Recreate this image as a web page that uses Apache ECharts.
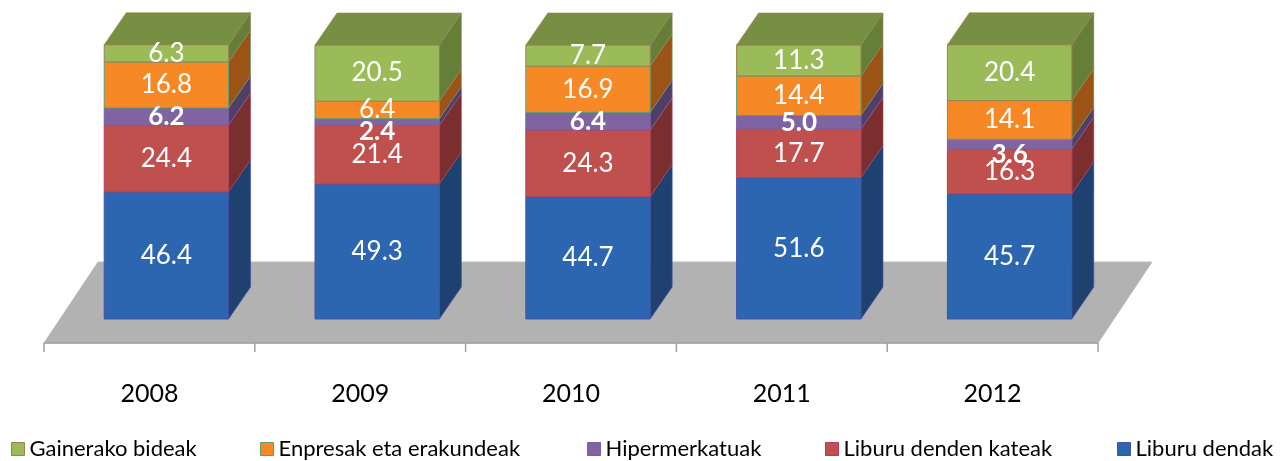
<!DOCTYPE html>
<html>
<head>
<meta charset="utf-8">
<script src="https://cdn.jsdelivr.net/npm/echarts@6/dist/echarts.min.js"></script>
<style>
  html, body { margin: 0; padding: 0; background: #fff; }
  #main { width: 1280px; height: 461px; }
</style>
</head>
<body>
<div id="main"></div>
<script>
const years = ["2008", "2009", "2010", "2011", "2012"];
const liburuDendak = [46.4, 49.3, 44.7, 51.6, 45.7];
const dendenKateak = [24.4, 21.4, 24.3, 17.7, 16.3];
const hipermerkatuak = [6.2, 2.4, 6.4, 5.0, 3.6];
const enpresak = [16.8, 6.4, 16.9, 14.4, 14.1];
const gainerako = [6.3, 20.5, 7.7, 11.3, 20.4];

window.onload = function () {
  const myChart = echarts.init(document.getElementById("main"));
  const FONT = "Lato, 'Open Sans', sans-serif";
  const DX = 22, DY = -32;   // depth of each box
  const SHIFT = 17;          // boxes sit in the middle of the floor
  const AXIS = "#A0A0A0";

  // bottom to top
  const layers = [
    { name: "Liburu dendak", values: liburuDendak, front: "#2C66B1", side: "#1E416F", border: "#4650A8", legendLeft: 1117 },
    { name: "Liburu denden kateak", values: dendenKateak, front: "#C0504D", side: "#7A2F2E", border: "#B04060", legendLeft: 825 },
    { name: "Hipermerkatuak", values: hipermerkatuak, front: "#8064A2", side: "#4F3E68", border: "#7A5FA0", legendLeft: 587, bold: true },
    { name: "Enpresak eta erakundeak", values: enpresak, front: "#F68826", side: "#9C5316", border: "#5AA070", legendLeft: 260 },
    { name: "Gainerako bideak", values: gainerako, front: "#9BBB59", side: "#667F38", top: "#778F42", border: "#9C8050", legendLeft: 11 }
  ];

  // floor + front axis line with ticks between categories
  const series = [{
    type: "custom",
    silent: true,
    z: 0,
    data: [[0, 0]],
    renderItem: function (params, api) {
      const cs = params.coordSys;
      const yf = cs.y + cs.height + 24;
      const children = [{
        type: "polygon",
        shape: { points: [[cs.x, yf], [cs.x + cs.width, yf], [cs.x + cs.width + 54, yf - 81], [cs.x + 54, yf - 81]] },
        style: { fill: "#B2B2B2", stroke: "#BDBDBD", lineWidth: 1 }
      }, {
        type: "line",
        shape: { x1: cs.x, y1: yf, x2: cs.x + cs.width, y2: yf },
        style: { stroke: AXIS, lineWidth: 1.5 }
      }];
      const step = api.size([1, 0])[0];
      for (let k = 0; k <= years.length; k++) {
        const x = cs.x + k * step;
        children.push({
          type: "line",
          shape: { x1: x, y1: yf, x2: x, y2: yf + 9 },
          style: { stroke: AXIS, lineWidth: 1.5 }
        });
      }
      return { type: "group", children: children };
    }
  }];

  let base = years.map(() => 0);
  layers.forEach(function (layer, li) {
    const data = layer.values.map((v, i) => [i, base[i], base[i] + v, v]);
    base = base.map((b, i) => b + layer.values[i]);
    const isTop = li === layers.length - 1;

    series.push({
      type: "custom",
      name: layer.name,
      z: 2,
      itemStyle: { color: layer.front, borderColor: layer.border, borderWidth: 1 },
      data: data,
      renderItem: function (params, api) {
        const i = api.value(0);
        const p0 = api.coord([i, api.value(1)]);
        const p1 = api.coord([i, api.value(2)]);
        const w = api.size([1, 0])[0] * 0.59;
        const x0 = p0[0] + SHIFT - w / 2, x1 = x0 + w;
        const yb = p0[1], yt = p1[1];
        const children = [
          {
            type: "polygon",
            shape: { points: [[x1, yt], [x1 + DX, yt + DY], [x1 + DX, yb + DY], [x1, yb]] },
            style: { fill: layer.side, stroke: layer.border, lineWidth: 0.6 }
          },
          {
            type: "rect",
            shape: { x: x0, y: yt, width: w, height: yb - yt },
            style: { fill: layer.front, stroke: layer.border, lineWidth: 1 }
          }
        ];
        if (isTop) {
          children.push({
            type: "polygon",
            shape: { points: [[x0, yt], [x0 + DX, yt + DY], [x1 + DX, yt + DY], [x1, yt]] },
            style: { fill: layer.top, stroke: layer.border, lineWidth: 0.6 }
          });
        }
        // thin slices get their label nudged down, as Excel does
        const nudge = api.value(3) < 4 ? 10 : 0;
        children.push({
          type: "text",
          z2: 100,
          style: {
            text: api.value(3).toFixed(1),
            x: x0 + w / 2,
            y: (yt + yb) / 2 + nudge,
            fill: "#fff",
            fontSize: 26,
            fontFamily: FONT,
            fontWeight: layer.bold ? "bold" : "normal",
            align: "center",
            verticalAlign: "middle"
          }
        });
        return { type: "group", children: children };
      }
    });
  });

  const legends = layers.map(layer => ({
    data: [layer.name],
    left: layer.legendLeft,
    top: 438,
    padding: 0,
    icon: "rect",
    itemWidth: 13,
    itemHeight: 13,
    itemGap: 0,
    itemStyle: { borderWidth: 1 },
    textStyle: { fontSize: 22, fontFamily: FONT, color: "#000" }
  }));

  const options = {
    animation: false,
    grid: { left: 44, right: 182, top: 45, bottom: 142 },
    legend: legends,
    xAxis: {
      type: "category",
      data: years,
      offset: 24,
      axisLine: { show: false },
      axisTick: { show: false },
      axisLabel: { color: "#000", fontSize: 25, fontFamily: FONT, margin: 38 }
    },
    yAxis: {
      type: "value",
      min: 0,
      max: 100,
      show: false
    },
    series: series
  };

  myChart.setOption(options);
};
</script>
</body>
</html>
